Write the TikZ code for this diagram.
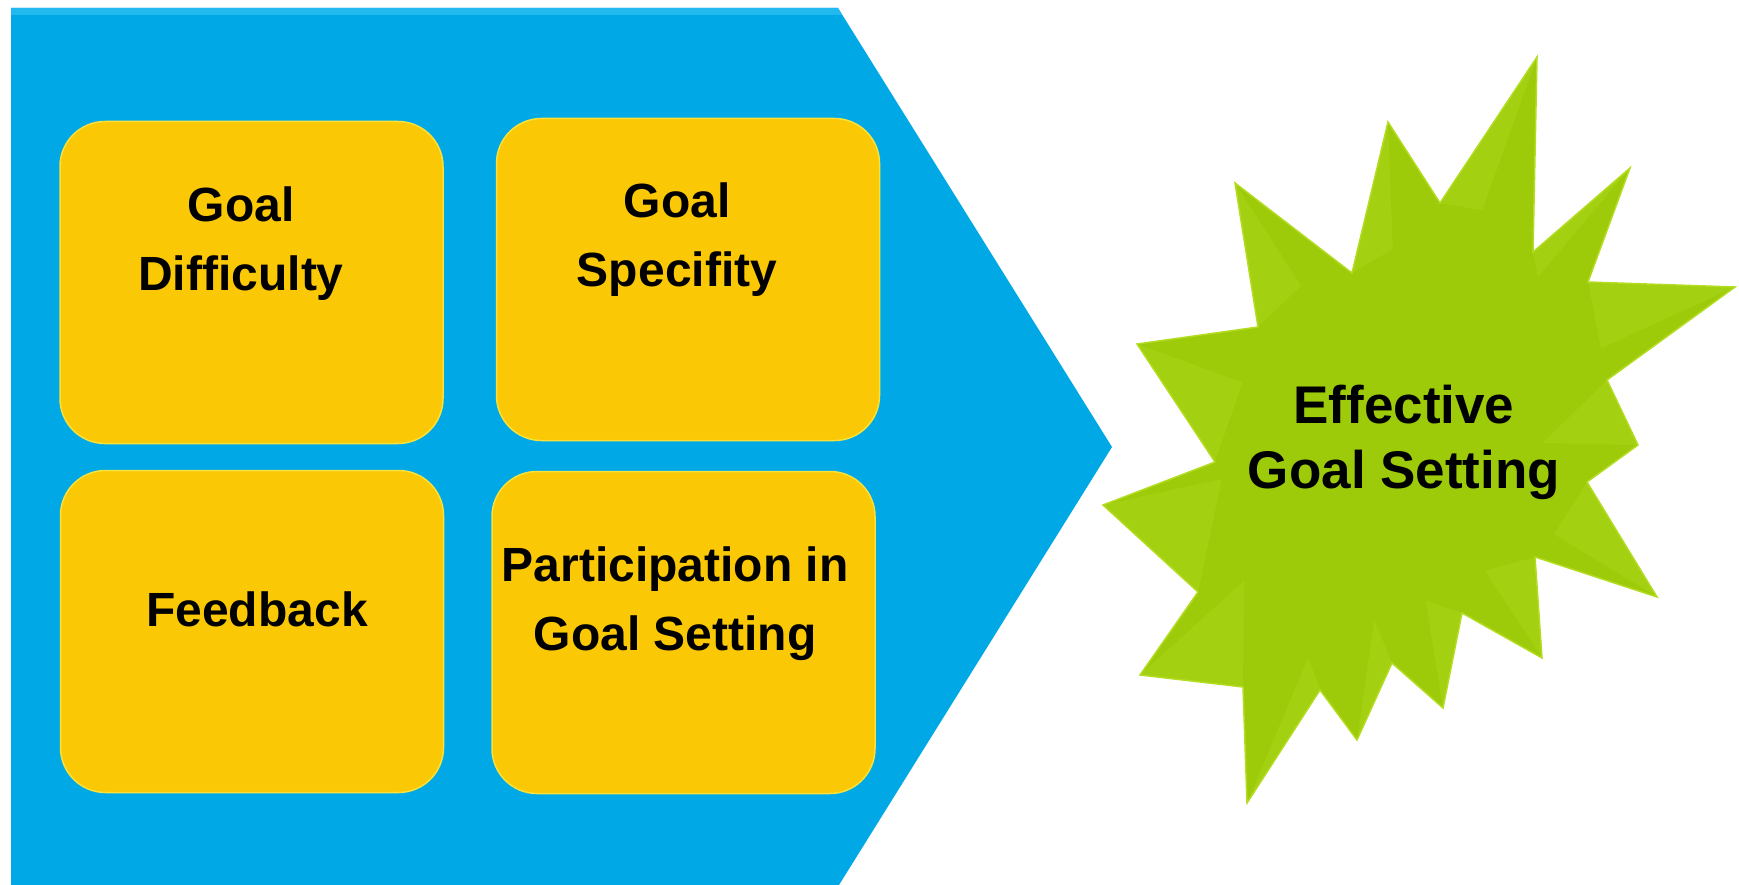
\documentclass[tikz,border=0pt]{standalone}
\usepackage{fontspec}
\setmainfont{Liberation Sans}
\usepackage{xcolor}
\usetikzlibrary{calc}
\definecolor{sky}{HTML}{00A9E6}
\definecolor{skylight}{HTML}{22BAEE}
\definecolor{sun}{HTML}{FBC805}
\definecolor{sunlight}{HTML}{F8E13A}
\definecolor{leaf}{HTML}{9DCB09}
\definecolor{leaflight}{HTML}{B4DC22}

\begin{document}
\begin{tikzpicture}[x=1pt, y=-1pt,
		factor/.style={
			rounded corners=45pt,
			fill=sun, draw=sunlight, line width=1.5pt,
			minimum width=383pt, minimum height=322pt,
			inner sep=0pt
		},
		factortext/.style={
			anchor=north, align=center, inner sep=0pt,
			font=\fontsize{48}{69}\selectfont\bfseries
		},
		result/.style={
			anchor=north, align=center, inner sep=0pt,
			font=\fontsize{53}{65}\selectfont\bfseries
		}]
		\useasboundingbox (0,0) rectangle (1739,885);
		% chevron
		\fill [sky] (11,8) -- (838,8) -- (1112,447) -- (839,885) -- (11,885) -- cycle;
		\fill [skylight] (11,8) -- (838,8) -- (842,15) -- (11,15) -- cycle;
		%
		\node [factor] (difficulty) at (251.5,282.5) {};
		\node [factortext] (difficulty-text) at (241,187) {Goal\\Difficulty};
		%
		\node [factor] (specifity) at (688,279.5) {};
		\node [factortext] (specifity-text) at (677,183) {Goal\\Specifity};
		%
		\node [factor] (feedback) at (252,631.5) {};
		\node [factortext] (feedback-text) at (257,592) {Feedback};
		%
		\node [factor] (participation) at (683.5,632.5) {};
		\node [factortext] (participation-text) at (675,547) {Participation in\\Goal Setting};
		%
		% star
		\coordinate (hub) at (1400,440);
		\filldraw [fill=leaf, draw=leaflight, line width=1.5pt, line join=miter]
			(1137,344) -- (1258,327) -- (1235,183) -- (1352,273) -- (1388,122)
			-- (1440,203) -- (1537,57) -- (1533,252) -- (1630,168) -- (1588,282)
			-- (1735,287) -- (1607,380) -- (1638,445) -- (1587,482) -- (1657,597)
			-- (1535,557) -- (1542,658) -- (1462,613) -- (1443,708) -- (1392,663)
			-- (1357,740) -- (1320,690) -- (1247,803) -- (1243,687) -- (1140,675)
			-- (1198,592) -- (1103,505) -- (1215,462) -- cycle;
		% lit side of each spike
		\foreach \tip/\dip in {{1137,344}/{1215,462}, {1235,183}/{1258,327},
				{1388,122}/{1352,273}, {1537,57}/{1440,203}, {1630,168}/{1533,252},
				{1735,287}/{1588,282}, {1638,445}/{1607,380}, {1657,597}/{1587,482},
				{1542,658}/{1535,557}, {1443,708}/{1462,613}, {1357,740}/{1392,663},
				{1247,803}/{1320,690}, {1140,675}/{1243,687}, {1103,505}/{1198,592}}
			\fill [leaflight, opacity=0.3] (\tip) -- (\dip) -- ($(\tip)!0.4!(hub)$) -- cycle;
		\node [result] (effective) at (1404,385) {Effective\\Goal Setting};
	\end{tikzpicture}
\end{document}
